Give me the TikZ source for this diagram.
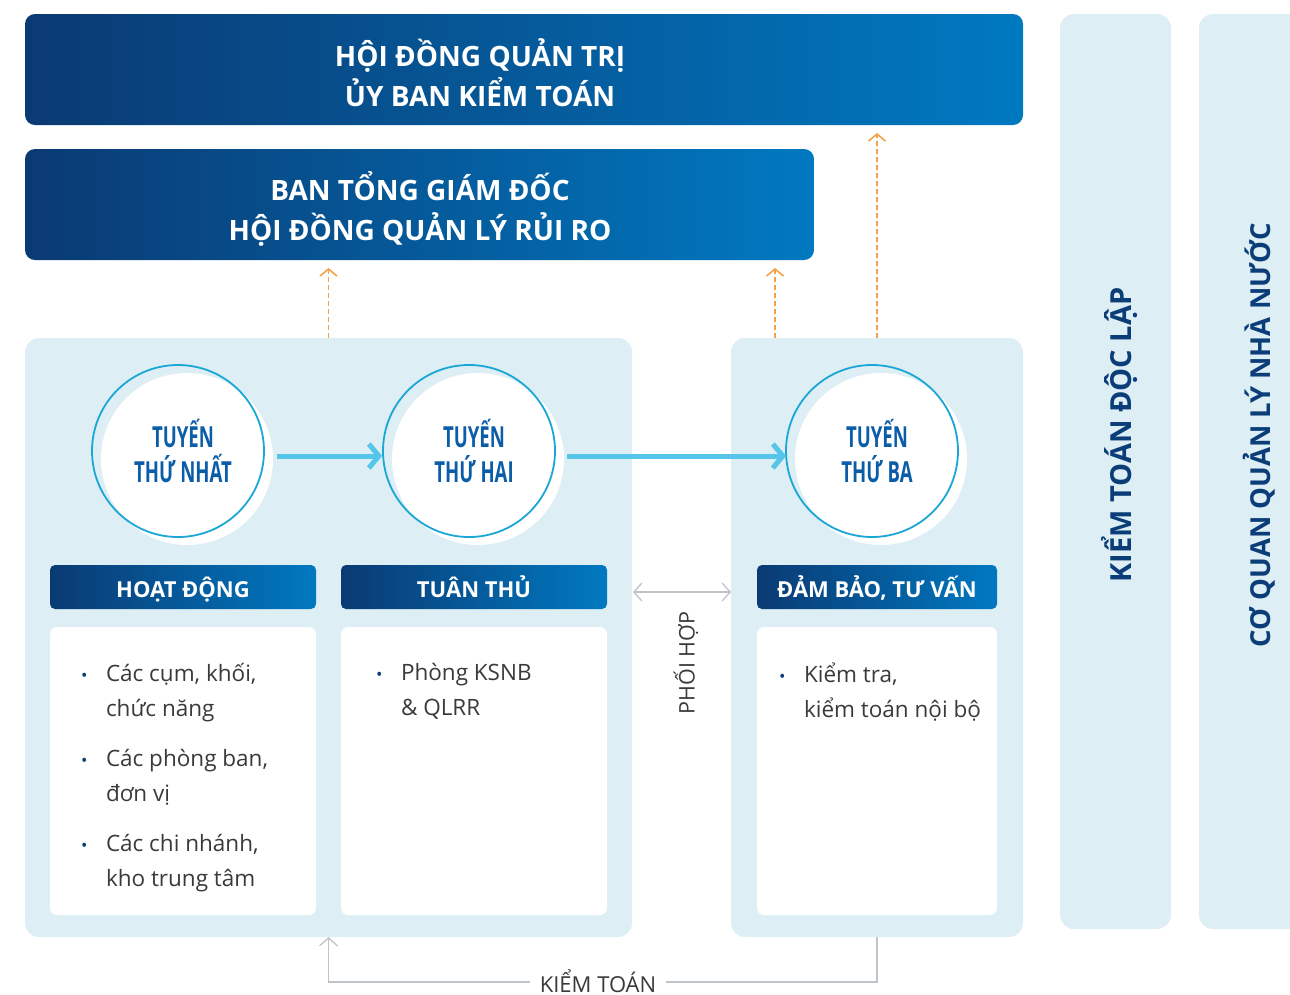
\documentclass[tikz,border=0pt]{standalone}
\usepackage{fontspec}
\setmainfont{Open Sans}
\usepackage{graphicx}
\usetikzlibrary{arrows.meta,positioning}

\definecolor{navyA}{HTML}{0A3A73}
\definecolor{navyB}{HTML}{0079C1}
\definecolor{paleblue}{HTML}{DDEEF5}
\definecolor{ringblue}{HTML}{1AA7D6}
\definecolor{flowblue}{HTML}{56C5EA}
\definecolor{lineblue}{HTML}{0B5DA8}
\definecolor{darknavy}{HTML}{0B3D78}
\definecolor{bodygray}{HTML}{3A3A3A}
\definecolor{dashorange}{HTML}{F4A24A}
\definecolor{linkgray}{HTML}{BFC4C8}

\newcommand{\fsz}[2]{\fontsize{#1}{#2}\selectfont}
\newcommand{\narrow}[1]{\hspace*{10pt}\scalebox{0.64}[1]{#1}}
\newcommand{\bdot}{\makebox[25pt][l]{\textcolor{darknavy}{\fsz{17}{17}\textbullet}}}
\newcommand{\indt}{\hspace*{25pt}}

\tikzset{
		basic/.style  = {rectangle, inner sep=0pt, outer sep=0pt},
		board/.style  = {basic, rounded corners=10pt, left color=navyA, right color=navyB},
		boardtext/.style = {basic, align=center, text=white, font=\bfseries\fsz{28}{40}},
		panel/.style  = {basic, rounded corners=14pt, fill=paleblue},
		header/.style = {basic, rounded corners=5pt, left color=navyA, right color=navyB, minimum height=44pt, text height=20pt, text depth=0pt, text=white, font=\bfseries\fsz{22}{26}},
		card/.style   = {basic, rounded corners=7pt, fill=white, minimum height=288pt},
		items/.style  = {basic, align=left, text=bodygray, font=\fsz{22.5}{35}},
		ring/.style   = {circle, draw=ringblue, line width=1.8pt, minimum size=172pt, inner sep=0pt, align=center, text=lineblue, font=\bfseries\fsz{29}{35}},
		halo/.style   = {circle, fill=white, minimum size=172pt, inner sep=0pt},
		flow/.style   = {draw=flowblue, line width=5pt, -{Straight Barb[length=10pt, width=24pt, line width=5pt]}},
		report/.style = {draw=dashorange, line width=1.6pt, dash pattern=on 5pt off 3pt, -{Straight Barb[length=7pt, width=17pt, line width=1.6pt]}},
		link/.style   = {draw=linkgray, line width=1.3pt},
		linktip/.tip  = {Straight Barb[length=8pt, width=18pt, line width=1.3pt]},
		sidetitle/.style = {basic, rotate=90, text=darknavy, font=\bfseries\fsz{29}{29}}
	}

\begin{document}
\begin{tikzpicture}[x=1pt, y=-1pt]
		\useasboundingbox (0,0) rectangle (1290,994);
		\clip (0,0) rectangle (1290,994);
		
		% boards at the top
		\node[board, minimum width=998pt, minimum height=111pt] (hdqt) at (524,69.5) {};
		\node[boardtext] (hdqtxt) at (480,73) {HỘI ĐỒNG QUẢN TRỊ\\ỦY BAN KIỂM TOÁN};
		\node[board, minimum width=789pt, minimum height=111pt] (ban) at (419.5,204.5) {};
		\node[boardtext] (bantxt) at (420,209) {BAN TỔNG GIÁM ĐỐC\\HỘI ĐỒNG QUẢN LÝ RỦI RO};
		
		% outside parties on the right
		\node[panel, minimum width=111pt, minimum height=915pt] (ktdl) at (1115.5,471.5) {};
		\node[sidetitle] (ktdltxt) at (1120,435) {KIỂM TOÁN ĐỘC LẬP};
		\node[panel, minimum width=121pt, minimum height=915pt] (cqnn) at (1259.5,471.5) {};
		\node[sidetitle, font=\bfseries\fsz{27.5}{29}] (cqnntxt) at (1259,435) {CƠ QUAN QUẢN LÝ NHÀ NƯỚC};
		
		% the two group panels
		\node[panel, minimum width=607pt, minimum height=599pt] (grp1) at (328.5,637.5) {};
		\node[panel, minimum width=292pt, minimum height=599pt] (grp3) at (877,637.5) {};
		
		% the three lines of defence
		\node[halo] (h1) at (187,459) {};
		\node[halo] (h2) at (478,459) {};
		\node[halo] (h3) at (881,459) {};
		\node[ring] (t1) at (178,451) {\narrow{TUYẾN}\\\narrow{THỨ NHẤT}};
		\node[ring] (t2) at (469,451) {\narrow{TUYẾN}\\\narrow{THỨ HAI}};
		\node[ring] (t3) at (872,451) {\narrow{TUYẾN}\\\narrow{THỨ BA}};
		
		\draw[flow] ([xshift=12pt, yshift=-5pt]t1.east) -- ([xshift=0pt, yshift=-5pt]t2.west);
		\draw[flow] ([xshift=11pt, yshift=-5pt]t2.east) -- ([xshift=1pt, yshift=-5pt]t3.west);
		
		% headers and cards
		\node[header, minimum width=266pt] (hd1) at (183,587) {HOẠT ĐỘNG};
		\node[header, minimum width=266pt] (hd2) at (474,587) {TUÂN THỦ};
		\node[header, minimum width=240pt] (hd3) at (877,587) {ĐẢM BẢO, TƯ VẤN};
		
		\node[card, minimum width=266pt] (c1) at (183,771) {};
		\node[card, minimum width=266pt] (c2) at (474,771) {};
		\node[card, minimum width=240pt] (c3) at (877,771) {};
		
		\node[items, anchor=north west] (c11) at (81,663) {\bdot Các cụm, khối,\\\indt chức năng\\[15pt]\bdot Các phòng ban,\\\indt đơn vị\\[15pt]\bdot Các chi nhánh,\\\indt kho trung tâm};
		\node[items, anchor=north west] (c21) at (376,663) {\bdot Phòng KSNB\\\indt\& QLRR};
		\node[items, anchor=north west] (c31) at (779,663) {\bdot Kiểm tra,\\\indt kiểm toán nội bộ};
		
		% coordination between the groups
		\coordinate (phl) at (633,592);
		\coordinate (phr) at (731,592);
		\draw[link, linktip-linktip] (phl) -- (phr);
		\node[basic, rotate=90, text=bodygray, font=\fsz{21.5}{24}] (phoihop) at (686,663) {PHỐI HỢP};
		
		% reporting lines
		\coordinate (rp2) at (775,338);
		\draw[report, shorten >=8pt] (grp1.north) -- (ban.south -| grp1.north);
		\draw[report, shorten >=8pt] (rp2) -- (ban.south -| rp2);
		\draw[report, shorten >=8pt] (grp3.north) -- (hdqt.south -| grp3.north);
		
		% audit loop at the bottom
		\draw[link, -linktip] (grp3.south) -- ++(0,45) -| (grp1.south);
		\node[basic, fill=white, inner xsep=10pt, text=bodygray, font=\fsz{22}{24}] (kiemtoan) at (598,981) {KIỂM TOÁN};
		
	\end{tikzpicture}
\end{document}
